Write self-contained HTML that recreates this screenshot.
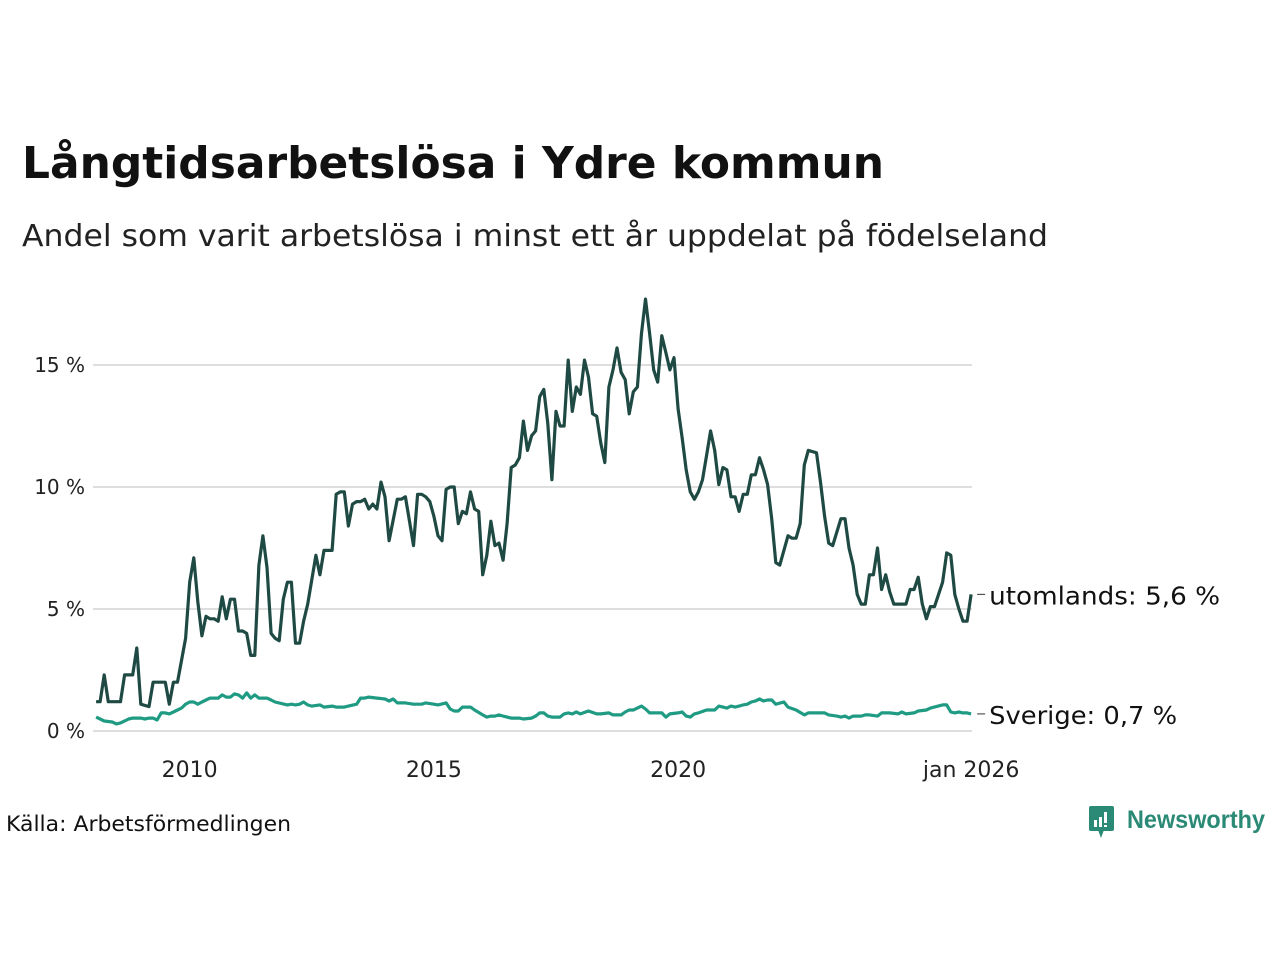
<!DOCTYPE html>
<html><head><meta charset="utf-8"><style>
html,body{margin:0;padding:0;background:#fff;}
svg{display:block;font-family:"DejaVu Sans","Liberation Sans",sans-serif;}
</style></head><body>
<svg id="chart" width="1280" height="960" viewBox="0 0 1280 960">
<text x="22" y="178" font-size="44" font-weight="bold" fill="#111" textLength="862" lengthAdjust="spacingAndGlyphs">Långtidsarbetslösa i Ydre kommun</text>
<text x="22" y="246" font-size="30" fill="#222" textLength="1026" lengthAdjust="spacingAndGlyphs">Andel som varit arbetslösa i minst ett år uppdelat på födelseland</text>
<g id="grid"></g>
<g id="yticks"></g>
<g id="xticks"></g>
<g id="series"></g>
<text x="6" y="831" font-size="21" fill="#111" textLength="285" lengthAdjust="spacingAndGlyphs">Källa: Arbetsförmedlingen</text>
<g>
<rect x="1089" y="806" width="25" height="25" rx="2" fill="#2a8a75"/>
<polygon points="1098,830 1104,830 1101,838" fill="#2a8a75"/>
<rect x="1094" y="820" width="3" height="7" fill="#fff"/>
<rect x="1099" y="817" width="3" height="10" fill="#fff"/>
<rect x="1104" y="812" width="3" height="11" fill="#fff"/>
<rect x="1104" y="825" width="3" height="2" fill="#fff"/>
<text x="1127" y="828" font-size="25" font-weight="bold" fill="#2a8a75" textLength="138" lengthAdjust="spacingAndGlyphs" font-family="Liberation Sans, sans-serif">Newsworthy</text>
</g>
</svg>
<script>
// Data: months since Dec 2007 (1 = Jan 2008 ... 216 = Dec 2025/Jan 2026), values in %
const utomMonths = [1,2,3,4,7,8,10,11,12,14,15,17,18,19,20,21,23,24,25,26,27,28,29,30,31,32,33,34,35,36,37,38,39,40,41,42,43,44,45,46,47,48,49,50,51,52,53,55,56,57,59,60,61,62,63,64,65,66,67,68,69,70,71,72,73,75,76,77,78,79,80,81,82,83,84,85,86,87,88,89,90,91,92,93,94,95,96,97,98,99,100,101,102,103,104,105,106,107,108,109,110,111,112,113,114,115,116,117,118,119,120,121,122,123,124,125,126,127,128,129,130,131,132,133,134,135,136,137,138,139,140,141,142,143,144,145,146,147,148,149,150,151,152,153,154,155,156,157,158,159,160,161,162,163,164,165,166,167,168,169,171,172,173,174,175,176,178,179,180,181,182,184,185,186,187,188,189,190,191,192,193,194,195,196,197,199,200,201,202,203,204,205,206,207,209,210,211,212,213,214,215,216];
const utomValues = [1.2,1.2,2.3,1.2,1.2,2.3,2.3,3.4,1.1,1.0,2.0,2.0,2.0,1.1,2.0,2.0,3.8,6.1,7.1,5.3,3.9,4.7,4.6,4.6,4.5,5.5,4.6,5.4,5.4,4.1,4.1,4.0,3.1,3.1,6.8,8.0,6.7,4.0,3.8,3.7,5.4,6.1,6.1,3.6,3.6,4.5,5.2,7.2,6.4,7.4,7.4,9.7,9.8,9.8,8.4,9.3,9.4,9.4,9.5,9.1,9.3,9.1,10.2,9.6,7.8,9.5,9.5,9.6,8.6,7.6,9.7,9.7,9.6,9.4,8.8,8.0,7.8,9.9,10.0,10.0,8.5,9.0,8.9,9.8,9.1,9.0,6.4,7.2,8.6,7.6,7.7,7.0,8.5,10.8,10.9,11.2,12.7,11.5,12.1,12.3,13.7,14.0,12.6,10.3,13.1,12.5,12.5,15.2,13.1,14.1,13.8,15.2,14.5,13.0,12.9,11.8,11.0,14.1,14.8,15.7,14.7,14.4,13.0,13.9,14.1,16.3,17.7,16.3,14.8,14.3,16.2,15.5,14.8,15.3,13.2,12.0,10.7,9.8,9.5,9.8,10.3,11.3,12.3,11.5,10.1,10.8,10.7,9.6,9.6,9.0,9.7,9.7,10.5,10.5,11.2,10.7,10.1,8.7,6.9,6.8,8.0,7.9,7.9,8.5,10.9,11.5,11.4,10.2,8.8,7.7,7.6,8.7,8.7,7.5,6.8,5.6,5.2,5.2,6.4,6.4,7.5,5.8,6.4,5.7,5.2,5.2,5.2,5.8,5.8,6.3,5.2,4.6,5.1,5.1,6.1,7.3,7.2,5.6,5.0,4.5,4.5,5.6];
const sveMonths = [1,2,3,5,6,7,8,9,10,12,13,14,15,16,17,18,19,20,21,22,23,24,25,26,27,28,29,31,32,33,34,35,36,37,38,39,40,41,43,44,45,48,49,50,51,52,53,54,56,57,59,60,62,63,65,66,67,68,70,72,73,74,75,77,79,81,82,84,85,87,88,89,90,91,92,93,94,96,97,98,99,100,101,103,105,106,108,109,110,111,112,113,115,116,117,118,119,120,122,124,125,127,128,130,131,132,133,135,136,137,140,141,142,144,145,146,147,148,149,151,153,154,155,156,157,158,159,160,161,162,163,164,165,166,167,168,170,171,173,175,176,177,179,180,181,183,184,185,186,187,189,190,191,193,194,195,196,198,199,200,202,203,205,206,209,210,211,212,213,214,215,216];
const sveValues = [0.57,0.49,0.41,0.37,0.29,0.33,0.41,0.49,0.53,0.53,0.49,0.53,0.53,0.45,0.74,0.74,0.70,0.78,0.86,0.94,1.10,1.19,1.19,1.10,1.19,1.27,1.35,1.35,1.48,1.39,1.39,1.52,1.48,1.35,1.56,1.35,1.48,1.35,1.35,1.27,1.19,1.07,1.10,1.07,1.10,1.19,1.07,1.02,1.07,0.98,1.02,0.98,0.98,1.02,1.10,1.35,1.35,1.39,1.35,1.31,1.23,1.31,1.15,1.15,1.10,1.10,1.15,1.10,1.07,1.15,0.90,0.82,0.82,0.98,0.98,0.98,0.86,0.66,0.57,0.61,0.61,0.66,0.61,0.53,0.53,0.49,0.53,0.61,0.74,0.74,0.61,0.57,0.57,0.70,0.74,0.70,0.78,0.70,0.82,0.70,0.70,0.74,0.66,0.66,0.78,0.86,0.86,1.02,0.90,0.74,0.74,0.57,0.70,0.74,0.78,0.61,0.57,0.70,0.74,0.86,0.86,1.02,0.98,0.94,1.02,0.98,1.02,1.07,1.10,1.19,1.23,1.31,1.23,1.27,1.27,1.10,1.19,0.98,0.86,0.66,0.74,0.74,0.74,0.74,0.66,0.61,0.57,0.61,0.53,0.61,0.61,0.66,0.66,0.61,0.74,0.74,0.74,0.70,0.78,0.70,0.74,0.82,0.86,0.94,1.07,1.07,0.78,0.74,0.78,0.74,0.74,0.70];
const yTicks = [0,5,10,15];
const yTickLabels = ["0 %","5 %","10 %","15 %"];
const xTickMonths = [24,84,144,216];
const xTickLabels = ["2010","2015","2020","jan 2026"];
const seriesLabels = ["utomlands: 5,6 %","Sverige: 0,7 %"];

const NS = "http://www.w3.org/2000/svg";
const xScale = m => 92 + m * 4.07;
const yScale = v => 731 - v * 24.4;
function mk(tag, attrs, parent){
  const e = document.createElementNS(NS, tag);
  for (const k in attrs) e.setAttribute(k, attrs[k]);
  parent.appendChild(e);
  return e;
}
const grid = document.getElementById('grid');
const yt = document.getElementById('yticks');
yTicks.forEach((t,i)=>{
  const l = mk('line',{x1:93,x2:972,y1:yScale(t),y2:yScale(t),stroke:'#dedede','stroke-width':2},grid);
  
  
  const tx = mk('text',{x:85,y:yScale(t)+7,'font-size':20,'text-anchor':'end',fill:'#222'},yt);
  tx.textContent = yTickLabels[i];
  
  
});
const xt = document.getElementById('xticks');
xTickMonths.forEach((m,i)=>{
  const tx = mk('text',{x:xScale(m),y:777,'font-size':22,'text-anchor':'middle',fill:'#222'},xt);
  tx.textContent = xTickLabels[i];
  
  
});
const sg = document.getElementById('series');
function drawLine(months, values, color, label, name, labelW){
  const d = months.map((m,i)=>(i?'L':'M')+xScale(m).toFixed(1)+','+yScale(values[i]).toFixed(1)).join(' ');
  const p = mk('path',{d:d,fill:'none',stroke:color,'stroke-width':3.2,'stroke-linejoin':'round'},sg);
  
  
  const lastY = yScale(values[values.length-1]);
  const lx = xScale(months[months.length-1]);
  const tk = mk('line',{x1:lx+6,x2:lx+14,y1:lastY,y2:lastY,stroke:'#333','stroke-width':1},sg);
  
  
  const t = mk('text',{x:lx+18,y:lastY+10,'font-size':25,fill:'#111',textLength:labelW,lengthAdjust:'spacingAndGlyphs'},sg);
  t.textContent = label;
  
  
}
drawLine(sveMonths, sveValues, '#1f9a83', seriesLabels[1], 'sverige', 188);
drawLine(utomMonths, utomValues, '#1f4a44', seriesLabels[0], 'utomlands', 231);
</script>
</body></html>
